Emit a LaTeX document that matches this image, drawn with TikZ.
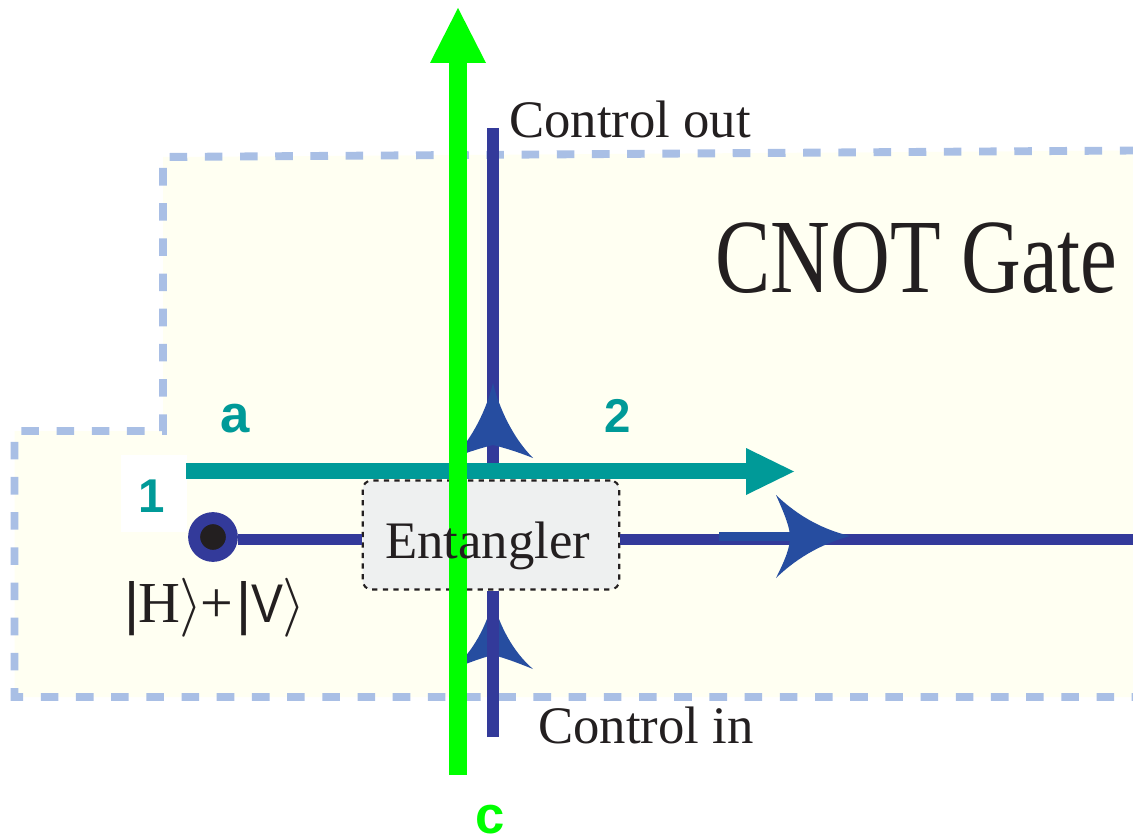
\documentclass[tikz,border=0pt]{standalone}
\usepackage{fontspec}
\setmainfont{Liberation Serif}
\setsansfont{Liberation Sans}
\definecolor{regionfill}{HTML}{FFFFF2}
\definecolor{regionedge}{HTML}{A9BFE5}
\definecolor{beamgreen}{HTML}{00FF00}
\definecolor{beamteal}{HTML}{009A98}
\definecolor{beamblue}{HTML}{333A9A}
\definecolor{barbblue}{HTML}{264DA0}
\definecolor{inktext}{HTML}{231F20}
\definecolor{boxfill}{HTML}{EEF0F0}
\tikzset{
  label/.style={text=inktext,inner sep=0pt,font=\fontsize{30pt}{32pt}\selectfont},
  tag/.style={inner sep=0pt,anchor=base,font=\fontsize{30pt}{32pt}\selectfont\sffamily\bfseries},
  digit/.style={tag,text=beamteal,font=\fontsize{27pt}{30pt}\selectfont\sffamily\bfseries},
  qubit/.style={line width=6.8pt,draw=beamblue},
  barb/.style={fill=barbblue},
}
\newcommand{\ketbar}{{\raisebox{-0.8pt}{\fontsize{33pt}{36pt}\selectfont\sffamily |}}}
\newcommand{\ketend}{{\fontsize{24.88pt}{36pt}\selectfont\scalebox{1.35}{$\rangle$}}}
\begin{document}
\begin{tikzpicture}[x=0.02cm,y=-0.02cm]
  \useasboundingbox (0,0) rectangle (1133,838);
  % gate region
  \fill[regionfill] (1133,150.5)--(163,157)--(163,431)--(14.5,431)--(14.5,697)--(1133,697)--cycle;
  \draw[regionedge,line width=4.5pt,dash pattern=on 10pt off 10.03pt,dash phase=2.5pt]
    (1133,150.5)--(163,157)--(163,431)--(14.5,431)--(14.5,697)--(1133,697);
  \fill[white] (121,455) rectangle (187,532);
  % control line and its barbs
  \coordinate (ctrlin) at (493,737);
  \coordinate (ctrlout) at (493,128);
  \node (entangler) [draw=inktext,fill=boxfill,dashed,rounded corners=5pt,line width=1.2pt,minimum width=146pt,minimum height=62pt,inner sep=0pt] at (491,535) {};
  \draw[qubit] (ctrlout)--(entangler.north-|ctrlout);
  \fill[barb] (493,383) .. controls (499,408) and (513,438) .. (533,458) .. controls (518,452) and (505,448) .. (493,445) .. controls (481,448) and (468,452) .. (453,458) .. controls (473,438) and (487,408) .. (493,383) -- cycle;
  \fill[barb] (493,600) .. controls (499,625) and (513,652) .. (533,669) .. controls (518,663) and (505,658) .. (493,655) .. controls (481,658) and (468,663) .. (453,669) .. controls (473,652) and (487,625) .. (493,600) -- cycle;
  \draw[qubit] (ctrlin)--(entangler.south-|ctrlin);
  % target line
  \node (source) [circle,draw=beamblue,fill=inktext,line width=6.8pt,minimum size=21.5pt,inner sep=0pt] at (213,537) {};
  \coordinate (targetout) at (1133,539.5);
  \draw[qubit] (source.east|-targetout)--(entangler.west|-targetout);
  \draw[qubit] (entangler.east|-targetout)--(targetout);
  \fill[barb] (719,532) rectangle (790,541);
  \fill[barb] (850,536) .. controls (825,530) and (800,518) .. (776,495) .. controls (785,515) and (790,528) .. (790,537) .. controls (790,548) and (785,560) .. (776,578) .. controls (800,555) and (825,543) .. (850,536) -- cycle;
  % upper beam
  \coordinate (beamstart) at (186,471);
  \coordinate (beamend) at (750,471);
  \draw[beamteal,line width=9.5pt] (beamstart)--(beamend);
  \fill[beamteal] (746,448)--(794,471.5)--(746,495)--cycle;
  % vertical beam on top
  \coordinate (greenstart) at (458,775);
  \coordinate (greenend) at (458,60);
  \draw[beamgreen,line width=10.2pt] (greenstart)--(greenend);
  \fill[beamgreen] (430,63)--(458,8)--(486,63)--cycle;
  % texts
  \node (entanglertxt) [label,anchor=base west] at (385,558) {Entangler};
  \node (ctrlouttxt) [label,anchor=base west] at (509,137) {Control out};
  \node (ctrlintxt) [label,anchor=base west] at (538,743) {Control in};
  \node (gatetxt) [label,anchor=base east,font=\fontsize{60pt}{62pt}\selectfont] at (1118,292) {\scalebox{0.785}[1]{CNOT Gate}};
  \node (ketH) [label,anchor=base west,font=\fontsize{33pt}{36pt}\selectfont] at (124,622) {\ketbar\kern-0.5pt H\kern-0.5pt\ketend\kern-1pt+\kern2pt\ketbar\kern-0.5pt{\fontsize{31pt}{36pt}\selectfont\sffamily\scalebox{0.88}[1]{V}}\kern-0.5pt\ketend};
  \node (taga) [tag,text=beamteal] at (235,432) {a};
  \node (tagtwo) [digit] at (618,432) {2};
  \node (tagone) [digit] at (152,512) {1};
  \node (tagc) [tag,text=beamgreen] at (490,833) {c};
\end{tikzpicture}
\end{document}
